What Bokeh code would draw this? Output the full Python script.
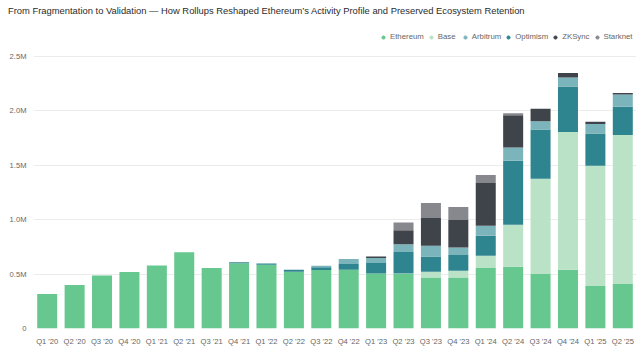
from bokeh.plotting import figure
from bokeh.models import (Legend, LegendItem, ColumnDataSource, FactorRange, FixedTicker,
                          CustomJSTickFormatter, Div)
from bokeh.layouts import column
from bokeh.embed import file_html
from bokeh.resources import INLINE

quarters = ["Q1 '20", "Q2 '20", "Q3 '20", "Q4 '20", "Q1 '21", "Q2 '21", "Q3 '21", "Q4 '21",
            "Q1 '22", "Q2 '22", "Q3 '22", "Q4 '22", "Q1 '23", "Q2 '23", "Q3 '23", "Q4 '23",
            "Q1 '24", "Q2 '24", "Q3 '24", "Q4 '24", "Q1 '25", "Q2 '25"]

# values in millions
ethereum = [0.316, 0.40, 0.487, 0.52, 0.58, 0.70, 0.555, 0.60, 0.585, 0.521, 0.537, 0.54,
            0.505, 0.50, 0.469, 0.469, 0.555, 0.567, 0.50, 0.54, 0.39, 0.408]
base = [0, 0, 0, 0, 0, 0, 0, 0, 0, 0, 0, 0,
        0, 0.005, 0.052, 0.062, 0.114, 0.386, 0.876, 1.266, 1.106, 1.37]
arbitrum = [0, 0, 0, 0, 0, 0, 0, 0, 0, 0, 0.015, 0.046,
            0.046, 0.071, 0.098, 0.07, 0.092, 0.122, 0.077, 0.083, 0.086, 0.113]
optimism = [0, 0, 0, 0, 0, 0, 0, 0.008, 0.012, 0.02, 0.025, 0.052,
            0.096, 0.199, 0.141, 0.144, 0.184, 0.588, 0.453, 0.419, 0.297, 0.26]
zksync = [0, 0, 0, 0, 0, 0, 0, 0, 0, 0, 0, 0,
          0.015, 0.129, 0.255, 0.252, 0.392, 0.298, 0.113, 0.04, 0.021, 0.013]
starknet = [0, 0, 0, 0, 0, 0, 0, 0, 0, 0, 0, 0,
            0, 0.071, 0.138, 0.119, 0.074, 0.018, 0.0, 0.0, 0.0, 0.0]

title_text = ("From Fragmentation to Validation \u2014 How Rollups Reshaped Ethereum\u2019s "
              "Activity Profile and Preserved Ecosystem Retention")
legend_order = ["Ethereum", "Base", "Arbitrum", "Optimism", "ZKSync", "Starknet"]
stack_order = ["Ethereum", "Base", "Optimism", "Arbitrum", "ZKSync", "Starknet"]
palette = {"Ethereum": "#66c78f", "Base": "#b9e2c7", "Arbitrum": "#7cb4bc",
           "Optimism": "#2e8590", "ZKSync": "#3f434a", "Starknet": "#86888d"}
y_ticks = [0, 0.5, 1.0, 1.5, 2.0, 2.5]

source = ColumnDataSource(dict(q=quarters, Ethereum=ethereum, Base=base, Arbitrum=arbitrum,
                               Optimism=optimism, ZKSync=zksync, Starknet=starknet))

FONT = "Liberation Sans"
HEADER = 19          # height of the title strip
BOTTOM = 29
H = 357 - HEADER     # figure height
frame_h = H - BOTTOM
y_end = 2.5 * frame_h / 272.0   # keep 2.5M gridline ~56px from the page top

header = Div(text=title_text, width=600, height=HEADER, margin=(0, 0, 0, 8),
             styles={"font-family": FONT, "font-size": "9.4px", "color": "#2b2b2b",
                     "line-height": "17px", "padding-top": "2px", "white-space": "nowrap"})

p = figure(width=641, height=H, x_range=FactorRange(*quarters), y_range=(0, y_end),
           output_backend="svg", toolbar_location=None,
           min_border_left=33, min_border_right=5, min_border_bottom=BOTTOM, min_border_top=0)
p.x_range.range_padding = 0
p.outline_line_color = None

p.vbar_stack(stack_order, x="q", width=0.73, color=[palette[s] for s in stack_order],
             source=source, line_color=None)

items = []
for name in legend_order:
    # hidden marker (below the visible y range) used only as legend glyph
    r = p.scatter(x=[quarters[0]], y=[-1], marker="circle", size=5, color=palette[name])
    items.append(LegendItem(label=name, renderers=[r]))
legend = Legend(items=items, orientation="horizontal", location=(346, 287),
                border_line_alpha=0, background_fill_alpha=0,
                label_text_font=FONT, label_text_font_size="7.8px", label_text_color="#666666",
                glyph_width=8, glyph_height=8, label_standoff=3, spacing=3,
                padding=0, margin=0, label_height=8)
p.add_layout(legend)

p.yaxis.ticker = FixedTicker(ticks=y_ticks)
p.yaxis.formatter = CustomJSTickFormatter(code="return tick == 0 ? '0' : tick.toFixed(1) + 'M';")
for ax in (p.xaxis[0], p.yaxis[0]):
    ax.axis_line_color = None
    ax.major_tick_line_color = None
    ax.minor_tick_line_color = None
    ax.major_tick_out = 0
    ax.major_tick_in = 0
    ax.major_label_text_font = FONT
    ax.major_label_text_font_size = "7.6px"
    ax.major_label_text_color = "#666666"
p.xaxis.major_label_standoff = 8
p.yaxis.major_label_standoff = 7
p.xgrid.grid_line_color = None
p.ygrid.grid_line_color = "#ececec"
p.ygrid.ticker = FixedTicker(ticks=y_ticks)

layout = column(header, p, spacing=0)
open("out.html", "w").write(file_html(layout, INLINE))
